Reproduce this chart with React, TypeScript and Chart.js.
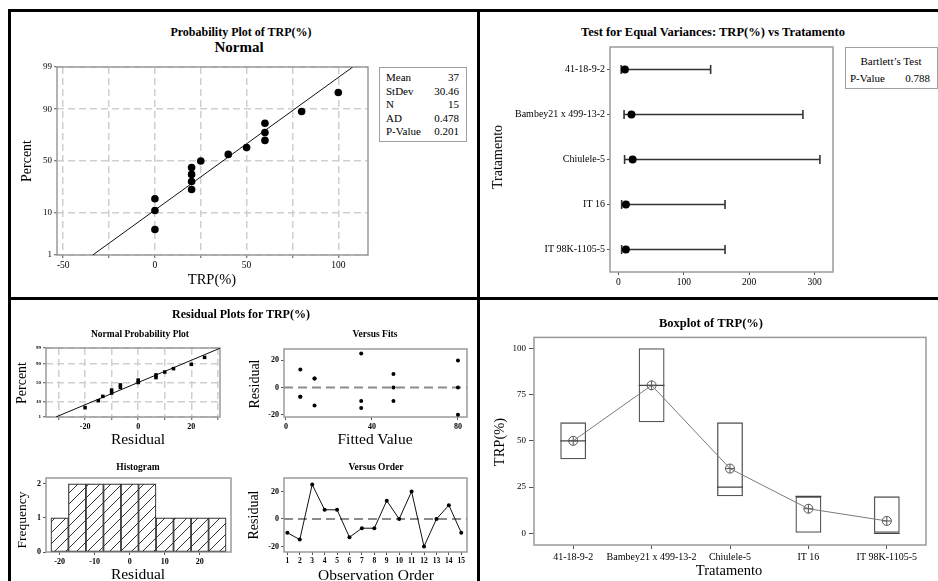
import React, { useEffect, useRef } from 'react';
import { Chart, registerables, LinearScale } from 'chart.js';

Chart.register(...registerables);

const SERIF = '"Liberation Serif", "Times New Roman", serif';
Chart.defaults.font.family = SERIF;
Chart.defaults.color = '#000';

// ---------------- data ----------------
// Probability plot of TRP(%)
const TRP_SORTED = [0, 0, 0, 20, 20, 20, 20, 25, 40, 50, 60, 60, 60, 80, 100];
const TRP_PCT = [4.5, 11.0, 17.5, 24.0, 30.5, 37.0, 43.5, 50.0, 56.5, 63.0, 69.5, 76.0, 82.5, 89.0, 95.5];
const FIT_X = [-33.9, 107.9];
const FIT_PCT = [1, 99];
const PROB_X_TICKS = [-50, -25, 0, 25, 50, 75, 100];
const PCT_TICKS = [1, 10, 50, 90, 99];
const STATS_LABELS = ['Mean', 'StDev', 'N', 'AD', 'P-Value'];
const STATS_VALUES = ['37', '30.46', '15', '0.478', '0.201'];

// Test for equal variances
const TREATMENTS = ['41-18-9-2', 'Bambey21 x 499-13-2', 'Chiulele-5', 'IT 16', 'IT 98K-1105-5'];
const SD_LOWER = [4.3, 8.7, 9.5, 5.0, 5.0];
const SD_CENTER = [10, 20, 21.8, 11.5, 11.5];
const SD_UPPER = [141, 282, 308, 163, 163];
const EV_X_TICKS = [0, 100, 200, 300];
const EV_Y_TICKS = [0, 1, 2, 3, 4];
const BARTLETT_P = '0.788';

// Boxplot
const BOX_MIN = [40, 60, 20, 0, 0];
const BOX_MAX = [60, 100, 60, 20, 20];
const BOX_MEDIAN = [50, 80, 25, 20, 0];
const BOX_MEAN = [50, 80, 35, 13.3, 6.7];
const BOX_Y_TICKS = [0, 25, 50, 75, 100];

// Residual plots
const RES_SORTED = [-20, -15, -13.3, -10, -10, -6.7, -6.7, 0, 0, 6.7, 6.7, 10, 13.3, 20, 25];
const RES_PCT = [4.5, 11.0, 17.5, 24.0, 30.5, 37.0, 43.5, 50.0, 56.5, 63.0, 69.5, 76.0, 82.5, 89.0, 95.5];
const RES_FIT_X = [-31, 31];
const RES_X_TICKS = [-30, -20, -10, 0, 10, 20, 30];
const FITTED = [35, 35, 35, 13.3, 13.3, 13.3, 6.7, 6.7, 6.7, 80, 80, 80, 50, 50, 50];
const RESIDUALS = [-10, -15, 25, 6.7, 6.7, -13.3, -6.7, -6.7, 13.3, 0, 20, -20, 0, 10, -10];
const ORDER = [1, 2, 3, 4, 5, 6, 7, 8, 9, 10, 11, 12, 13, 14, 15];
const FITS_X_TICKS = [0, 40, 80];
const RES_Y_TICKS = [-20, 0, 20];
const HIST_MID = [-20, -15, -10, -5, 0, 5, 10, 15, 20, 25];
const HIST_FREQ = [1, 2, 2, 2, 2, 2, 1, 1, 1, 1];
const HIST_X_TICKS = [-20, -10, 0, 10, 20];
const HIST_Y_TICKS = [0, 1, 2];

// ---------------- normal probability scale ----------------
function normInv(p: number): number {
  const a = [-39.69683028665376, 220.9460984245205, -275.9285104469687, 138.357751867269, -30.66479806614716, 2.506628277459239];
  const b = [-54.47609879822406, 161.5858368580409, -155.6989798598866, 66.80131188771972, -13.28068155288572];
  const c = [-0.007784894002430293, -0.3223964580411365, -2.400758277161838, -2.549732539343734, 4.374664141464968, 2.938163982698783];
  const d = [0.007784695709041462, 0.3224671290700398, 2.445134137142996, 3.754408661907416];
  const pl = 0.02425;
  if (p <= 0) return -10;
  if (p >= 1) return 10;
  let q: number, r: number;
  if (p < pl) {
    q = Math.sqrt(-2 * Math.log(p));
    return (((((c[0] * q + c[1]) * q + c[2]) * q + c[3]) * q + c[4]) * q + c[5]) / ((((d[0] * q + d[1]) * q + d[2]) * q + d[3]) * q + 1);
  }
  if (p <= 1 - pl) {
    q = p - 0.5;
    r = q * q;
    return ((((((a[0] * r + a[1]) * r + a[2]) * r + a[3]) * r + a[4]) * r + a[5]) * q) / (((((b[0] * r + b[1]) * r + b[2]) * r + b[3]) * r + b[4]) * r + 1);
  }
  q = Math.sqrt(-2 * Math.log(1 - p));
  return -(((((c[0] * q + c[1]) * q + c[2]) * q + c[3]) * q + c[4]) * q + c[5]) / ((((d[0] * q + d[1]) * q + d[2]) * q + d[3]) * q + 1);
}
function normCdf(z: number): number {
  const t = 1 / (1 + 0.2316419 * Math.abs(z));
  const dd = 0.3989423 * Math.exp((-z * z) / 2);
  const p = dd * t * (0.3193815 + t * (-0.3565638 + t * (1.781478 + t * (-1.821256 + t * 1.330274))));
  return z > 0 ? 1 - p : p;
}

class ProbitScale extends (LinearScale as any) {
  static id = 'probit';
  static defaults = {};
  determineDataLimits() {
    const o: any = (this as any).options;
    (this as any).min = o.min ?? 1;
    (this as any).max = o.max ?? 99;
  }
  buildTicks() {
    return PCT_TICKS.map((v) => ({ value: v }));
  }
  zr() {
    return [normInv((this as any).min / 100), normInv((this as any).max / 100)];
  }
  getPixelForValue(value: number) {
    const [z0, z1] = this.zr();
    return (this as any).getPixelForDecimal((normInv(value / 100) - z0) / (z1 - z0));
  }
  getValueForPixel(pixel: number) {
    const [z0, z1] = this.zr();
    return 100 * normCdf(z0 + (this as any).getDecimalForPixel(pixel) * (z1 - z0));
  }
}
Chart.register(ProbitScale as any);

// ---------------- plugins ----------------
const framePlugin = {
  id: 'frame',
  beforeDatasetsDraw(chart: any, _args: any, opts: any) {
    const { ctx, chartArea: a } = chart;
    ctx.save();
    ctx.strokeStyle = opts.color || '#9a9a9a';
    ctx.lineWidth = opts.width || 1.5;
    ctx.strokeRect(a.left, a.top, a.right - a.left, a.bottom - a.top);
    ctx.restore();
  },
};
const refLinePlugin = {
  id: 'refLine',
  beforeDatasetsDraw(chart: any, _args: any, opts: any) {
    if (opts == null || opts.y === undefined) return;
    const { ctx, chartArea: a } = chart;
    const y = chart.scales.y.getPixelForValue(opts.y);
    ctx.save();
    ctx.strokeStyle = '#8c8c8c';
    ctx.lineWidth = 2;
    ctx.setLineDash([9, 5]);
    ctx.beginPath();
    ctx.moveTo(a.left, y);
    ctx.lineTo(a.right, y);
    ctx.stroke();
    ctx.restore();
  },
};
Chart.register(framePlugin as any, refLinePlugin as any);

// ---------------- layout helpers ----------------
type Box = { l: number; t: number; r: number; b: number; padL: number; padB: number };
const PAD_T = 8;
const PAD_R = 10;
const GRID_COLOR = '#cfcfcf';

function canvasRect(b: Box) {
  return {
    left: b.l - b.padL,
    top: b.t - PAD_T,
    width: b.r - b.l + b.padL + PAD_R,
    height: b.b - b.t + PAD_T + b.padB,
  };
}

function mkAxis(o: any) {
  return {
    type: o.type || 'linear',
    min: o.min,
    max: o.max,
    reverse: !!o.reverse,
    offset: !!o.offset,
    afterBuildTicks: o.ticks
      ? (s: any) => {
          s.ticks = o.ticks.map((v: number) => ({ value: v }));
        }
      : undefined,
    afterFit: (s: any) => {
      if (o.horizontal) s.height = o.size;
      else s.width = o.size;
    },
    ticks: {
      autoSkip: false,
      maxRotation: 0,
      minRotation: 0,
      padding: o.pad ?? 2,
      color: '#000',
      font: o.font,
      callback: o.label || ((v: any) => String(v)),
    },
    grid: {
      display: true,
      drawOnChartArea: !!o.grid,
      drawTicks: true,
      tickLength: o.tickLen ?? 3,
      color: o.grid ? GRID_COLOR : 'rgba(0,0,0,0)',
      lineWidth: o.grid ? 1.5 : 1,
      tickColor: '#555',
      tickWidth: 1,
      offset: false,
    },
    border: { display: false, dash: o.grid ? [7, 4] : [] },
  };
}

function baseOptions(scales: any, plugins: any = {}) {
  return {
    animation: false,
    responsive: false,
    maintainAspectRatio: false,
    devicePixelRatio: 1,
    events: [],
    layout: { padding: { top: PAD_T, right: PAD_R, left: 0, bottom: 0 }, autoPadding: false },
    plugins: {
      legend: { display: false },
      tooltip: { enabled: false },
      frame: { color: '#9a9a9a', width: 1.5 },
      refLine: {},
      ...plugins,
    },
    scales,
  };
}

function hatchPattern(): any {
  const c = document.createElement('canvas');
  c.width = 11;
  c.height = 11;
  const g = c.getContext('2d')!;
  g.fillStyle = '#ffffff';
  g.fillRect(0, 0, 11, 11);
  g.strokeStyle = '#333';
  g.lineWidth = 1;
  g.beginPath();
  g.moveTo(0, 11);
  g.lineTo(11, 0);
  g.moveTo(-5.5, 5.5);
  g.lineTo(5.5, -5.5);
  g.moveTo(5.5, 16.5);
  g.lineTo(16.5, 5.5);
  g.stroke();
  return g.createPattern(c, 'repeat');
}

// ---------------- chart boxes ----------------
const BOX_A: Box = { l: 57, t: 67, r: 368, b: 255, padL: 30, padB: 22 };
const BOX_B: Box = { l: 610, t: 47, r: 833, b: 272, padL: 128, padB: 20 };
const BOX_D: Box = { l: 534, t: 337, r: 926, b: 545, padL: 30, padB: 20 };
const BOX_C1: Box = { l: 46, t: 348, r: 220, b: 417, padL: 20, padB: 14 };
const BOX_C2: Box = { l: 284, t: 349, r: 467, b: 417, padL: 24, padB: 14 };
const BOX_C3: Box = { l: 46, t: 478, r: 231, b: 552, padL: 20, padB: 14 };
const BOX_C4: Box = { l: 284, t: 478, r: 467, b: 552, padL: 24, padB: 14 };

const SMALL_BOLD = { size: 8, weight: 'bold' };

const CHARTS: { key: string; box: Box; config: () => any }[] = [
  {
    key: 'prob',
    box: BOX_A,
    config: () => ({
      type: 'scatter',
      data: {
        datasets: [
          {
            data: TRP_SORTED.map((x, i) => ({ x, y: TRP_PCT[i] })),
            pointRadius: 3.8,
            pointBackgroundColor: '#000',
            pointBorderColor: '#000',
            pointBorderWidth: 0,
          },
          {
            data: FIT_X.map((x, i) => ({ x, y: FIT_PCT[i] })),
            showLine: true,
            borderColor: '#111',
            borderWidth: 1,
            pointRadius: 0,
          },
        ],
      },
      options: baseOptions({
        x: mkAxis({ horizontal: true, size: BOX_A.padB, min: -53.4, max: 116.2, ticks: PROB_X_TICKS, grid: true, font: { size: 9.5 }, label: (v: number) => (v % 50 === 0 ? String(v) : '') }),
        y: mkAxis({ type: 'probit', size: BOX_A.padL, min: 1, max: 99, ticks: PCT_TICKS, grid: true, font: { size: 9 } }),
      }),
    }),
  },
  {
    key: 'eqvar',
    box: BOX_B,
    config: () => ({
      type: 'scatter',
      data: {
        datasets: [
          {
            data: SD_CENTER.map((x, i) => ({ x, y: i })),
            pointRadius: 4,
            pointBackgroundColor: '#000',
            pointBorderColor: '#000',
            pointBorderWidth: 0,
          },
          ...TREATMENTS.map((_, i) => ({
            data: [
              { x: SD_LOWER[i], y: i },
              { x: SD_UPPER[i], y: i },
            ],
            showLine: true,
            borderColor: '#333',
            borderWidth: 1.6,
            pointStyle: 'line',
            pointRotation: 90,
            pointRadius: 4.5,
            pointBorderColor: '#333',
            pointBorderWidth: 1.6,
          })),
        ],
      },
      options: baseOptions({
        x: mkAxis({ horizontal: true, size: BOX_B.padB, min: -12.8, max: 328, ticks: EV_X_TICKS, font: { size: 9.5 } }),
        y: mkAxis({ size: BOX_B.padL, min: -0.5, max: 4.5, reverse: true, ticks: EV_Y_TICKS, font: { size: 10 }, label: (v: number) => TREATMENTS[v] }),
      }),
    }),
  },
  {
    key: 'box',
    box: BOX_D,
    config: () => ({
      type: 'bar',
      data: {
        labels: TREATMENTS,
        datasets: [
          {
            type: 'line',
            data: BOX_MEAN,
            borderColor: '#7a7a7a',
            borderWidth: 1,
            pointStyle: 'cross',
            pointRadius: 4.5,
            pointBorderColor: '#555',
            pointBorderWidth: 1,
          },
          {
            type: 'line',
            data: BOX_MEAN,
            showLine: false,
            pointStyle: 'circle',
            pointRadius: 4.5,
            pointBackgroundColor: 'rgba(0,0,0,0)',
            pointBorderColor: '#555',
            pointBorderWidth: 1,
          },
          {
            type: 'line',
            data: BOX_MEDIAN,
            showLine: false,
            pointStyle: 'line',
            pointRadius: 12.9,
            pointBorderColor: '#444',
            pointBorderWidth: 1.3,
          },
          {
            type: 'bar',
            data: BOX_MIN.map((m, i) => [m, BOX_MAX[i]]),
            backgroundColor: 'rgba(0,0,0,0)',
            borderColor: '#555',
            borderWidth: 1.3,
            borderSkipped: false,
            barPercentage: 0.33,
            categoryPercentage: 1,
          },
        ],
      },
      options: baseOptions({
        x: mkAxis({ type: 'category', horizontal: true, offset: true, size: BOX_D.padB, font: { size: 10 }, tickLen: 4, label: (_v: any, i: number) => TREATMENTS[i] }),
        y: mkAxis({ size: BOX_D.padL, min: -6.3, max: 105.9, ticks: BOX_Y_TICKS, font: { size: 9 }, tickLen: 5, pad: 3 }),
      }),
    }),
  },
  {
    key: 'rnorm',
    box: BOX_C1,
    config: () => ({
      type: 'scatter',
      data: {
        datasets: [
          {
            data: RES_SORTED.map((x, i) => ({ x, y: RES_PCT[i] })),
            pointStyle: 'rect',
            pointRadius: 2.5,
            pointBackgroundColor: '#000',
            pointBorderWidth: 0,
          },
          {
            data: RES_FIT_X.map((x, i) => ({ x, y: FIT_PCT[i] })),
            showLine: true,
            borderColor: '#111',
            borderWidth: 1,
            pointRadius: 0,
          },
        ],
      },
      options: baseOptions({
        x: mkAxis({ horizontal: true, size: BOX_C1.padB, min: -34.7, max: 30.8, ticks: RES_X_TICKS, grid: true, font: SMALL_BOLD, label: (v: number) => (v % 20 === 0 ? String(v) : '') }),
        y: mkAxis({ type: 'probit', size: BOX_C1.padL, min: 1, max: 99, ticks: PCT_TICKS, grid: true, font: { size: 5, weight: 'bold' } }),
      }),
    }),
  },
  {
    key: 'rfits',
    box: BOX_C2,
    config: () => ({
      type: 'scatter',
      data: {
        datasets: [
          {
            data: FITTED.map((x, i) => ({ x, y: RESIDUALS[i] })),
            pointRadius: 2,
            pointBackgroundColor: '#000',
            pointBorderWidth: 0,
          },
        ],
      },
      options: baseOptions(
        {
          x: mkAxis({ horizontal: true, size: BOX_C2.padB, min: -0.9, max: 84.2, ticks: FITS_X_TICKS, font: SMALL_BOLD }),
          y: mkAxis({ size: BOX_C2.padL, min: -21.7, max: 28.4, ticks: RES_Y_TICKS, font: SMALL_BOLD }),
        },
        { refLine: { y: 0 } }
      ),
    }),
  },
  {
    key: 'rhist',
    box: BOX_C3,
    config: () => ({
      type: 'bar',
      data: {
        datasets: [
          {
            data: HIST_MID.map((x, i) => ({ x, y: HIST_FREQ[i] })),
            backgroundColor: hatchPattern(),
            borderColor: '#333',
            borderWidth: 1.2,
            borderSkipped: false,
            barPercentage: 1,
            categoryPercentage: 1,
          },
        ],
      },
      options: baseOptions({
        x: mkAxis({ horizontal: true, size: BOX_C3.padB, min: -23.9, max: 28.9, ticks: HIST_X_TICKS, font: SMALL_BOLD }),
        y: mkAxis({ size: BOX_C3.padL, min: 0, max: 2.17, ticks: HIST_Y_TICKS, font: SMALL_BOLD }),
      }),
    }),
  },
  {
    key: 'rorder',
    box: BOX_C4,
    config: () => ({
      type: 'scatter',
      data: {
        datasets: [
          {
            data: ORDER.map((x, i) => ({ x, y: RESIDUALS[i] })),
            showLine: true,
            borderColor: '#111',
            borderWidth: 1,
            pointRadius: 2,
            pointBackgroundColor: '#000',
            pointBorderWidth: 0,
          },
        ],
      },
      options: baseOptions(
        {
          x: mkAxis({ horizontal: true, size: BOX_C4.padB, min: 0.73, max: 15.46, ticks: ORDER, font: { size: 7.5, weight: 'bold' } }),
          y: mkAxis({ size: BOX_C4.padL, min: -24, max: 29.8, ticks: RES_Y_TICKS, font: SMALL_BOLD }),
        },
        { refLine: { y: 0 } }
      ),
    }),
  },
];

// ---------------- text helpers ----------------
function Txt(props: { x: number; y: number; size: number; bold?: boolean; rotate?: boolean; align?: 'left' | 'center' | 'right'; children: any }) {
  const { x, y, size, bold, rotate, align = 'center', children } = props;
  const tx = align === 'center' ? '-50%' : align === 'right' ? '-100%' : '0';
  return (
    <div
      style={{
        position: 'absolute',
        left: x,
        top: y,
        transform: `translate(${tx}, -50%)${rotate ? ' rotate(-90deg)' : ''}`,
        fontFamily: SERIF,
        fontSize: size,
        fontWeight: bold ? 700 : 400,
        whiteSpace: 'nowrap',
        lineHeight: 1,
        color: '#000',
      }}
    >
      {children}
    </div>
  );
}

const line = (left: number, top: number, width: number, height: number) => (
  <div style={{ position: 'absolute', left, top, width, height, background: '#000' }} />
);

export default function App() {
  const refs = useRef<(HTMLCanvasElement | null)[]>([]);
  useEffect(() => {
    const charts = CHARTS.map((spec, i) => new Chart(refs.current[i] as HTMLCanvasElement, spec.config()));
    return () => charts.forEach((c) => c.destroy());
  }, []);

  return (
    <div style={{ position: 'fixed', left: 0, top: 0, width: 938, height: 581, background: '#fff', overflow: 'hidden' }}>
      {CHARTS.map((spec, i) => {
        const r = canvasRect(spec.box);
        return (
          <canvas
            key={spec.key}
            ref={(el) => {
              refs.current[i] = el;
            }}
            width={r.width}
            height={r.height}
            style={{ position: 'absolute', left: r.left, top: r.top, width: r.width, height: r.height }}
          />
        );
      })}

      {/* panel borders */}
      {line(8, 9, 930, 3)}
      {line(8, 9, 3, 572)}
      {line(8, 297, 930, 3)}
      {line(477, 9, 3, 572)}

      {/* Panel A: probability plot */}
      <Txt x={241} y={32} size={12} bold>Probability Plot of TRP(%)</Txt>
      <Txt x={239} y={46.5} size={15} bold>Normal</Txt>
      <Txt x={27} y={161} size={14} rotate>Percent</Txt>
      <Txt x={212} y={279} size={14.5}>TRP(%)</Txt>
      <div style={{ position: 'absolute', left: 379, top: 67, width: 86, height: 73, border: '1.5px solid #a0a0a0' }} />
      {STATS_LABELS.map((s, i) => (
        <Txt key={s} x={386} y={77 + i * 13.5} size={11} align="left">{s}</Txt>
      ))}
      {STATS_VALUES.map((s, i) => (
        <Txt key={'v' + i} x={459} y={77 + i * 13.5} size={11} align="right">{s}</Txt>
      ))}

      {/* Panel B: equal variances */}
      <Txt x={713} y={32} size={12.5} bold>Test for Equal Variances: TRP(%) vs Tratamento</Txt>
      <Txt x={498} y={157} size={14} rotate>Tratamento</Txt>
      <div style={{ position: 'absolute', left: 845, top: 47, width: 91, height: 40, border: '1.5px solid #a0a0a0' }} />
      <Txt x={891} y={61} size={11}>Bartlett’s Test</Txt>
      <Txt x={850} y={78} size={11} align="left">P-Value</Txt>
      <Txt x={930} y={78} size={11} align="right">{BARTLETT_P}</Txt>

      {/* Panel C: residual plots */}
      <Txt x={241} y={314} size={12} bold>Residual Plots for TRP(%)</Txt>
      <Txt x={140} y={335} size={9.5} bold>Normal Probability Plot</Txt>
      <Txt x={375} y={335} size={9.5} bold>Versus Fits</Txt>
      <Txt x={138} y={468} size={9.5} bold>Histogram</Txt>
      <Txt x={376} y={468} size={9.5} bold>Versus Order</Txt>
      <Txt x={22} y={383} size={14} rotate>Percent</Txt>
      <Txt x={138} y={439} size={15.5}>Residual</Txt>
      <Txt x={255} y={384} size={14} rotate>Residual</Txt>
      <Txt x={375} y={439} size={15.5}>Fitted Value</Txt>
      <Txt x={22} y={520} size={13.5} rotate>Frequency</Txt>
      <Txt x={138} y={574} size={15.5}>Residual</Txt>
      <Txt x={254} y={515} size={14} rotate>Residual</Txt>
      <Txt x={376} y={575} size={15.5}>Observation Order</Txt>

      {/* Panel D: boxplot */}
      <Txt x={711} y={323} size={12.5} bold>Boxplot of TRP(%)</Txt>
      <Txt x={499} y={442} size={14.5} rotate>TRP(%)</Txt>
      <Txt x={729} y={570} size={14.5}>Tratamento</Txt>
    </div>
  );
}
